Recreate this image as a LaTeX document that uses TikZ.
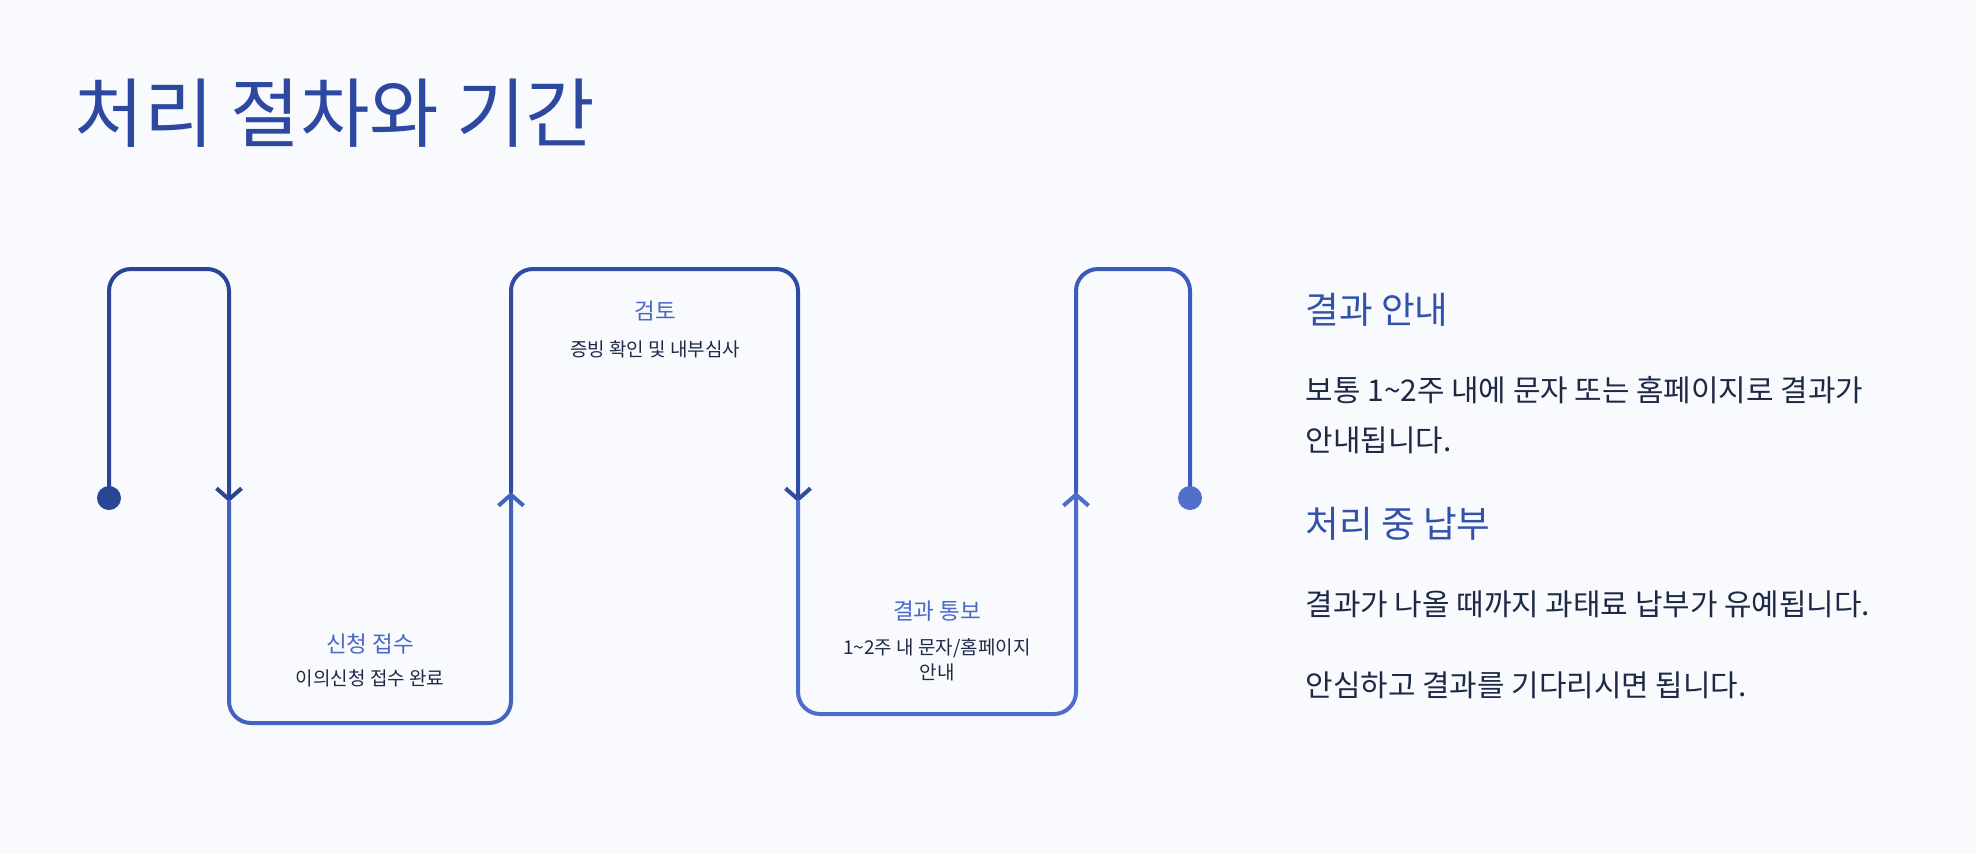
\documentclass[tikz,border=0pt]{standalone}
\usepackage{fontspec}
\setmainfont{Noto Sans CJK KR}
\usepackage{xcolor}
\usepackage{tikz}
\usetikzlibrary{arrows.meta}

\definecolor{pagebg}{HTML}{F8FAFD}
\definecolor{titleblue}{HTML}{2D48A0}
\definecolor{headblue}{HTML}{3151AB}
\definecolor{stepblue}{HTML}{4A69C6}
\definecolor{ink}{HTML}{1E2946}
\definecolor{segA}{HTML}{2A4496}
\definecolor{segB}{HTML}{4462C2}
\definecolor{segC}{HTML}{2F4BA4}
\definecolor{segD}{HTML}{4D6DCD}
\definecolor{segE}{HTML}{3D5BBA}
\definecolor{dotend}{HTML}{5070CC}

\tikzset{
  wire/.style={line width=0.04cm, rounded corners=0.22cm, line cap=round},
  chev/.style={-{Straight Barb[length=0.11cm,width=0.25cm]}},
  steptitle/.style={text=stepblue, font=\fontsize{6.4}{7.5}\selectfont, inner sep=0pt},
  stepnote/.style={text=ink, font=\fontsize{5.4}{7.1}\selectfont, inner sep=0pt, align=center},
  sidehead/.style={text=headblue, font=\fontsize{10.4}{12}\selectfont, inner sep=0pt, anchor=west},
  sidetext/.style={text=ink, font=\fontsize{8.5}{14.2}\selectfont, inner sep=0pt, anchor=west, align=left}
}

\begin{document}
\begin{tikzpicture}[x=0.01cm, y=-0.01cm]
        \fill[pagebg] (0,0) rectangle (1976,854);
        \useasboundingbox (0,0) rectangle (1976,854);

        % title
        \node[inner sep=0pt, anchor=west, text=titleblue, font=\fontsize{21.5}{25}\selectfont] (title) at (74,113) {처리 절차와 기간};

        % the winding track
        \coordinate (s) at (109,498);
        \coordinate (t1l) at (109,269);
        \coordinate (t1r) at (229,269);
        \coordinate (a1) at (229,502);
        \coordinate (b1l) at (229,723);
        \coordinate (b1r) at (511,723);
        \coordinate (a2) at (511,492);
        \coordinate (t2l) at (511,269);
        \coordinate (t2r) at (798,269);
        \coordinate (a3) at (798,502);
        \coordinate (b2l) at (798,714);
        \coordinate (b2r) at (1076,714);
        \coordinate (a4) at (1076,492);
        \coordinate (t3l) at (1076,269);
        \coordinate (t3r) at (1190,269);
        \coordinate (e) at (1190,498);

        \draw[wire, segA, chev] (s) -- (t1l) -- (t1r) -- (a1);
        \draw[wire, segB, chev] (a1) -- (b1l) -- (b1r) -- (a2);
        \draw[wire, segC, chev] (a2) -- (t2l) -- (t2r) -- (a3);
        \draw[wire, segD, chev] (a3) -- (b2l) -- (b2r) -- (a4);
        \draw[wire, segE] (a4) -- (t3l) -- (t3r) -- (e);
        \fill[segA] (s) circle[radius=12];
        \fill[dotend] (e) circle[radius=12];

        % step labels
        \node[steptitle] (recv) at (370,644) {신청 접수};
        \node[stepnote] (recvnote) at (370,678) {이의신청 접수 완료};
        \node[steptitle] (review) at (655,311) {검토};
        \node[stepnote] (reviewnote) at (655,349) {증빙 확인 및 내부심사};
        \node[steptitle] (notice) at (937,611) {결과 통보};
        \node[stepnote] (noticenote) at (937,660) {1\textasciitilde 2주 내 문자/홈페이지\\안내};

        % right column
        \node[sidehead] (head1) at (1305,310) {결과 안내};
        \node[sidetext] (body1) at (1305,415) {보통 1\textasciitilde 2주 내에 문자 또는 홈페이지로 결과가\\안내됩니다.};
        \node[sidehead] (head2) at (1305,524) {처리 중 납부};
        \node[sidetext] (body2) at (1305,604) {결과가 나올 때까지 과태료 납부가 유예됩니다.};
        \node[sidetext] (body3) at (1305,685) {안심하고 결과를 기다리시면 됩니다.};
\end{tikzpicture}
\end{document}
